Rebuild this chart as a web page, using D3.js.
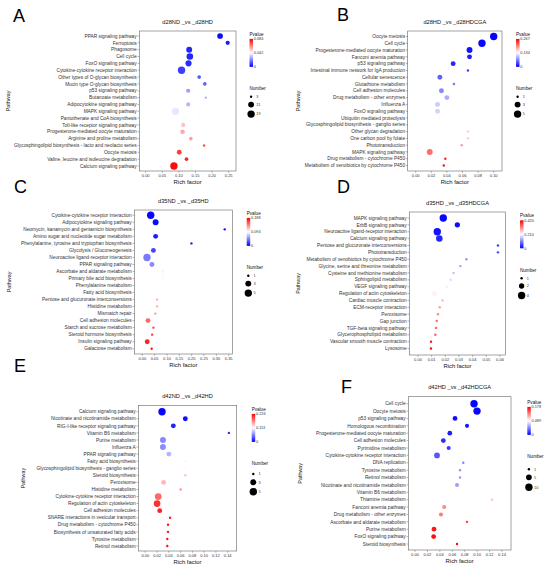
<!DOCTYPE html>
<html>
<head>
<meta charset="utf-8">
<script src="https://cdn.jsdelivr.net/npm/d3@7"></script>
<style>
  body { margin: 0; background: #fff; }
  svg { display: block; font-family: "Liberation Sans", Arial, sans-serif; }
</style>
</head>
<body>
<svg id="fig" width="550" height="569"></svg>
<script>
/* ------ DATA (rows top to bottom, as in the figure) ------ */

// A : d28ND _vs _d28HD
var aPathway = ["PPAR signaling pathway", "Ferroptosis", "Phagosome", "Cell cycle", "FoxO signaling pathway",
  "Cytokine-cytokine receptor interaction", "Other types of O-glycan biosynthesis", "Mucin type O-glycan biosynthesis",
  "p53 signaling pathway", "Butanoate metabolism", "Adipocytokine signaling pathway", "MAPK signaling pathway",
  "Pantothenate and CoA biosynthesis", "Toll-like receptor signaling pathway", "Progesterone-mediated oocyte maturation",
  "Arginine and proline metabolism", "Glycosphingolipid biosynthesis - lacto and neolacto series", "Oocyte meiosis",
  "Valine, leucine and isoleucine degradation", "Calcium signaling pathway"];
var aRich   = [0.224, 0.247, 0.131, 0.133, 0.129, 0.108, 0.161, 0.178, 0.128, 0.181, 0.128, 0.090, 0.160, 0.113, 0.111, 0.136, 0.176, 0.101, 0.123, 0.085];
var aNumber = [10, 5, 11, 14, 12, 19, 4, 4, 5, 3, 5, 18, 3, 5, 6, 4, 3, 7, 4, 19];
var aPvalue = [0.002, 0.004, 0.006, 0.006, 0.007, 0.010, 0.014, 0.016, 0.026, 0.028, 0.030, 0.038, 0.043, 0.052, 0.056, 0.058, 0.072, 0.074, 0.078, 0.082];
var aRichTicks = [0, 0.05, 0.10, 0.15, 0.20, 0.25];
var aPvalueTicks = [0, 0.042, 0.084];
var aNumberTicks = [3, 11, 19];

// B : d28HD _vs _d28HDCGA
var bPathway = ["Oocyte meiosis", "Cell cycle", "Progesterone-mediated oocyte maturation", "Fanconi anemia pathway",
  "p53 signaling pathway", "Intestinal immune network for IgA production", "Cellular senescence", "Glutathione metabolism",
  "Cell adhesion molecules", "Drug metabolism - other enzymes", "Influenza A", "FoxO signaling pathway",
  "Ubiquitin mediated proteolysis", "Glycosphingolipid biosynthesis - ganglio series", "Other glycan degradation",
  "One carbon pool by folate", "Phototransduction", "MAPK signaling pathway", "Drug metabolism - cytochrome P450",
  "Metabolism of xenobiotics by cytochrome P450"];
var bRich   = [0.100, 0.085, 0.069, 0.069, 0.048, 0.067, 0.031, 0.049, 0.033, 0.040, 0.028, 0.028, 0.030, 0.067, 0.067, 0.067, 0.059, 0.018, 0.038, 0.036];
var bNumber = [5, 5, 3, 2, 2, 1, 2, 1, 2, 2, 2, 2, 1, 1, 1, 1, 1, 3, 1, 1];
var bPvalue = [0.002, 0.004, 0.010, 0.015, 0.020, 0.030, 0.050, 0.060, 0.070, 0.090, 0.105, 0.110, 0.130, 0.135, 0.160, 0.165, 0.190, 0.210, 0.250, 0.260];
var bRichTicks = [0, 0.02, 0.04, 0.06, 0.08, 0.10];
var bPvalueTicks = [0, 0.134, 0.267];
var bNumberTicks = [1, 3, 5];

// C : d35ND _vs _d35HD
var cPathway = ["Cytokine-cytokine receptor interaction", "Adipocytokine signaling pathway",
  "Neomycin, kanamycin and gentamicin biosynthesis", "Amino sugar and nucleotide sugar metabolism",
  "Phenylalanine, tyrosine and tryptophan biosynthesis", "Glycolysis / Gluconeogenesis",
  "Neuroactive ligand-receptor interaction", "PPAR signaling pathway", "Ascorbate and aldarate metabolism",
  "Primary bile acid biosynthesis", "Phenylalanine metabolism", "Fatty acid biosynthesis",
  "Pentose and glucuronate interconversions", "Histidine metabolism", "Mismatch repair", "Cell adhesion molecules",
  "Starch and sucrose metabolism", "Steroid hormone biosynthesis", "Insulin signaling pathway", "Galactose metabolism"];
var cRich   = [0.034, 0.054, 0.334, 0.054, 0.199, 0.045, 0.019, 0.039, 0.083, 0.083, 0.083, 0.083, 0.060, 0.060, 0.053, 0.023, 0.045, 0.040, 0.020, 0.038];
var cNumber = [5, 3, 1, 2, 1, 2, 5, 2, 1, 1, 1, 1, 1, 1, 1, 2, 1, 1, 2, 1];
var cPvalue = [0.002, 0.004, 0.006, 0.010, 0.012, 0.025, 0.045, 0.050, 0.090, 0.092, 0.093, 0.095, 0.120, 0.122, 0.130, 0.150, 0.160, 0.165, 0.175, 0.180];
var cRichTicks = [0, 0.05, 0.10, 0.15, 0.20, 0.25, 0.30, 0.35];
var cPvalueTicks = [0, 0.094, 0.188];
var cNumberTicks = [1, 3, 5];

// D : d35HD _vs _d35HDCGA
var dPathway = ["MAPK signaling pathway", "ErbB signaling pathway", "Neuroactive ligand-receptor interaction",
  "Calcium signaling pathway", "Pentose and glucuronate interconversions", "Phototransduction",
  "Metabolism of xenobiotics by cytochrome P450", "Glycine, serine and threonine metabolism",
  "Cysteine and methionine metabolism", "Sphingolipid metabolism", "VEGF signaling pathway",
  "Regulation of actin cytoskeleton", "Cardiac muscle contraction", "ECM-receptor interaction", "Peroxisome",
  "Gap junction", "TGF-beta signaling pathway", "Glycerophospholipid metabolism", "Vascular smooth muscle contraction",
  "Lysosome"];
var dRich   = [0.0185, 0.0288, 0.0141, 0.0156, 0.0585, 0.0585, 0.0354, 0.0310, 0.0260, 0.0240, 0.0210, 0.0120, 0.0180, 0.0159, 0.0146, 0.0137, 0.0132, 0.0127, 0.0095, 0.0095];
var dNumber = [4, 2, 4, 3, 1, 1, 1, 1, 1, 1, 1, 2, 1, 1, 1, 1, 1, 1, 1, 1];
var dPvalue = [0.005, 0.010, 0.015, 0.030, 0.050, 0.055, 0.120, 0.130, 0.160, 0.180, 0.195, 0.220, 0.270, 0.290, 0.310, 0.330, 0.335, 0.340, 0.410, 0.415];
var dRichTicks = [0, 0.01, 0.02, 0.03, 0.04, 0.05, 0.06];
var dPvalueTicks = [0, 0.210, 0.420];
var dNumberTicks = [1, 2, 4];

// E : d42ND _vs _d42HD
var ePathway = ["Calcium signaling pathway", "Nicotinate and nicotinamide metabolism", "RIG-I-like receptor signaling pathway",
  "Vitamin B6 metabolism", "Purine metabolism", "Influenza A", "PPAR signaling pathway", "Fatty acid biosynthesis",
  "Glycosphingolipid biosynthesis - ganglio series", "Steroid biosynthesis", "Peroxisome", "Histidine metabolism",
  "Cytokine-cytokine receptor interaction", "Regulation of actin cytoskeleton", "Cell adhesion molecules",
  "SNARE interactions in vesicular transport", "Drug metabolism - cytochrome P450",
  "Biosynthesis of unsaturated fatty acids", "Tyrosine metabolism", "Retinol metabolism"];
var eRich   = [0.0284, 0.068, 0.0476, 0.142, 0.030, 0.030, 0.040, 0.068, 0.068, 0.068, 0.031, 0.060, 0.022, 0.020, 0.0245, 0.042, 0.0386, 0.0386, 0.0374, 0.0374];
var eNumber = [5, 2, 2, 1, 3, 3, 2, 1, 1, 1, 2, 1, 4, 4, 2, 1, 1, 1, 1, 1];
var ePvalue = [0.003, 0.006, 0.015, 0.020, 0.060, 0.062, 0.080, 0.110, 0.115, 0.140, 0.145, 0.160, 0.180, 0.205, 0.210, 0.215, 0.218, 0.219, 0.221, 0.222];
var eRichTicks = [0, 0.02, 0.04, 0.06, 0.08, 0.10, 0.12, 0.14];
var ePvalueTicks = [0, 0.113, 0.226];
var eNumberTicks = [1, 3, 5];

// F : d42HD _vs _d42HDCGA
var fPathway = ["Cell cycle", "Oocyte meiosis", "p53 signaling pathway", "Homologous recombination",
  "Progesterone-mediated oocyte maturation", "Cell adhesion molecules", "Pyrimidine metabolism",
  "Cytokine-cytokine receptor interaction", "DNA replication", "Tyrosine metabolism", "Retinol metabolism",
  "Nicotinate and nicotinamide metabolism", "Vitamin B6 metabolism", "Thiamine metabolism", "Fanconi anemia pathway",
  "Drug metabolism - other enzymes", "Ascorbate and aldarate metabolism", "Purine metabolism", "FoxO signaling pathway",
  "Steroid biosynthesis"];
var fRich   = [0.095, 0.0998, 0.0644, 0.0837, 0.056, 0.0456, 0.0542, 0.0354, 0.0777, 0.0724, 0.0724, 0.0676, 0.141, 0.124, 0.047, 0.0418, 0.0837, 0.0306, 0.030, 0.0676];
var fNumber = [10, 10, 3, 2, 3, 3, 2, 5, 1, 1, 1, 2, 1, 1, 2, 2, 1, 3, 3, 1];
var fPvalue = [0.001, 0.002, 0.005, 0.008, 0.010, 0.015, 0.020, 0.030, 0.045, 0.050, 0.051, 0.055, 0.090, 0.110, 0.130, 0.135, 0.160, 0.170, 0.172, 0.175];
var fRichTicks = [0, 0.02, 0.04, 0.06, 0.08, 0.10, 0.12, 0.14];
var fPvalueTicks = [0, 0.089, 0.178];
var fNumberTicks = [1, 5, 10];

/* ------ LAYOUT (one entry per panel) ------ */
var panels = [
  { letter: "A", title: "d28ND _vs _d28HD", names: aPathway, rich: aRich, number: aNumber, pvalue: aPvalue,
    richTicks: aRichTicks, pTicks: aPvalueTicks, nTicks: aNumberTicks,
    letterPos: [13, 22], box: [139.3, 31, 236, 171], rows: [36, 166], xpix: [145.7, 228.7], ylabX: 8.3, leg: [249.5, 34.3] },
  { letter: "B", title: "d28HD _vs _d28HDCGA", names: bPathway, rich: bRich, number: bNumber, pvalue: bPvalue,
    richTicks: bRichTicks, pTicks: bPvalueTicks, nTicks: bNumberTicks,
    letterPos: [337, 21], box: [407.7, 31, 502, 171], rows: [36.5, 165.5], xpix: [415.7, 493.7], ylabX: 298.3, leg: [516, 34.3] },
  { letter: "C", title: "d35ND _vs _d35HD", names: cPathway, rich: cRich, number: cNumber, pvalue: cPvalue,
    richTicks: cRichTicks, pTicks: cPvalueTicks, nTicks: cNumberTicks,
    letterPos: [14, 193], box: [134.3, 210, 232.3, 354], rows: [215.3, 348.7], xpix: [142.3, 228.7], ylabX: 8.5, leg: [246.7, 213.3] },
  { letter: "D", title: "d35HD _vs _d35HDCGA", names: dPathway, rich: dRich, number: dNumber, pvalue: dPvalue,
    richTicks: dRichTicks, pTicks: dPvalueTicks, nTicks: dNumberTicks,
    letterPos: [337, 193], box: [409.3, 212, 505.7, 355], rows: [218, 348.5], xpix: [418, 500], ylabX: 298, leg: [520, 215.7] },
  { letter: "E", title: "d42ND _vs _d42HD", names: ePathway, rich: eRich, number: eNumber, pvalue: ePvalue,
    richTicks: eRichTicks, pTicks: ePvalueTicks, nTicks: eNumberTicks,
    letterPos: [14, 372], box: [138.3, 405.3, 236.7, 551], rows: [411.7, 546], xpix: [145.3, 227.7], ylabX: 23.3, leg: [251.7, 409.3] },
  { letter: "F", title: "d42HD _vs _d42HDCGA", names: fPathway, rich: fRich, number: fNumber, pvalue: fPvalue,
    richTicks: fRichTicks, pTicks: fPvalueTicks, nTicks: fNumberTicks,
    letterPos: [341, 393], box: [408.3, 396.7, 511, 550], rows: [403.7, 544], xpix: [415, 502], ylabX: 300, leg: [527.3, 402.3] }
];

var svg = d3.select("#fig");
var defs = svg.append("defs");

panels.forEach(drawPanel);

function drawPanel(p) {
  var g = svg.append("g").attr("class", "panel-" + p.letter);
  var bx0 = p.box[0], by0 = p.box[1], bx1 = p.box[2], by1 = p.box[3];

  var x = d3.scaleLinear()
    .domain([p.richTicks[0], p.richTicks[p.richTicks.length - 1]])
    .range(p.xpix);
  var y = d3.scalePoint().domain(p.names).range(p.rows);

  var pMax = p.pTicks[p.pTicks.length - 1];
  var color = d3.scaleLinear()
    .domain([0, pMax / 2, pMax])
    .range(["#0000ff", "#ffffff", "#ff0000"]);

  // ggplot-like area scale: radius grows with sqrt of rescaled count
  var nMin = p.nTicks[0], nMax = p.nTicks[p.nTicks.length - 1];
  var sq = d3.scaleSqrt().domain([0, nMax - nMin]).range([0, 1]).clamp(true);
  function radius(n) { return 1.2 + 2.5 * sq(n - nMin); }

  // panel letter
  g.append("text")
    .attr("x", p.letterPos[0]).attr("y", p.letterPos[1])
    .attr("font-size", 18).attr("fill", "#000")
    .text(p.letter);

  // title
  g.append("text")
    .attr("x", (bx0 + bx1) / 2).attr("y", by0 - 7.3)
    .attr("text-anchor", "middle").attr("font-size", 5.7).attr("fill", "#111")
    .text(p.title);

  // points (drawn first, border on top)
  var rows = p.names.map(function(name, i) {
    return { name: name, rich: p.rich[i], number: p.number[i], pvalue: p.pvalue[i] };
  });

  g.append("g").selectAll("circle")
    .data(rows)
    .enter().append("circle")
      .attr("cx", function(d) { return x(d.rich); })
      .attr("cy", function(d) { return y(d.name); })
      .attr("r", function(d) { return radius(d.number); })
      .attr("fill", function(d) { return color(d.pvalue); });

  // panel border
  g.append("rect")
    .attr("x", bx0).attr("y", by0)
    .attr("width", bx1 - bx0).attr("height", by1 - by0)
    .attr("fill", "none").attr("stroke", "#666").attr("stroke-width", 0.6);

  // y axis: ticks + pathway labels
  var yAxis = g.append("g");
  yAxis.selectAll("line")
    .data(p.names)
    .enter().append("line")
      .attr("x1", bx0 - 1.8).attr("x2", bx0)
      .attr("y1", function(d) { return y(d); })
      .attr("y2", function(d) { return y(d); })
      .attr("stroke", "#444").attr("stroke-width", 0.4);
  yAxis.selectAll("text")
    .data(p.names)
    .enter().append("text")
      .attr("x", bx0 - 2.6)
      .attr("y", function(d) { return y(d); })
      .attr("dy", "0.35em")
      .attr("text-anchor", "end").attr("font-size", 4.8).attr("fill", "#333")
      .text(function(d) { return d; });

  // x axis: ticks + labels
  var xAxis = g.append("g");
  xAxis.selectAll("line")
    .data(p.richTicks)
    .enter().append("line")
      .attr("x1", function(d) { return x(d); })
      .attr("x2", function(d) { return x(d); })
      .attr("y1", by1).attr("y2", by1 + 1.8)
      .attr("stroke", "#444").attr("stroke-width", 0.4);
  xAxis.selectAll("text")
    .data(p.richTicks)
    .enter().append("text")
      .attr("x", function(d) { return x(d); })
      .attr("y", by1 + 5.8)
      .attr("text-anchor", "middle").attr("font-size", 4).attr("fill", "#333")
      .text(d3.format(".2f"));

  g.append("text")
    .attr("x", (bx0 + bx1) / 2).attr("y", by1 + 13.2)
    .attr("text-anchor", "middle").attr("font-size", 5.9).attr("fill", "#111")
    .text("Rich factor");

  g.append("text")
    .attr("transform", "translate(" + (p.ylabX + 2) + "," + ((by0 + by1) / 2) + ") rotate(-90)")
    .attr("text-anchor", "middle").attr("font-size", 5.4).attr("fill", "#111")
    .text("Pathway");

  /* ------ legends ------ */
  var lx = p.leg[0], ly = p.leg[1];
  var leg = g.append("g");

  leg.append("text")
    .attr("x", lx).attr("y", ly).attr("dy", "0.35em")
    .attr("font-size", 4.6).attr("fill", "#111")
    .text("Pvalue");

  var gradId = "grad-" + p.letter;
  var grad = defs.append("linearGradient")
    .attr("id", gradId).attr("x1", 0).attr("x2", 0).attr("y1", 1).attr("y2", 0);
  p.pTicks.forEach(function(t) {
    grad.append("stop")
      .attr("offset", t / pMax)
      .attr("stop-color", color(t));
  });

  var barTop = ly + 4.6, barBottom = ly + 32.6;
  var barScale = d3.scaleLinear().domain([0, pMax]).range([barBottom, barTop]);
  leg.append("rect")
    .attr("x", lx).attr("y", barTop)
    .attr("width", 3.5).attr("height", barBottom - barTop)
    .attr("fill", "url(#" + gradId + ")");
  leg.selectAll(".cbtick")
    .data(p.pTicks)
    .enter().append("line")
      .attr("class", "cbtick")
      .attr("x1", lx).attr("x2", lx + 0.8)
      .attr("y1", function(d) { return barScale(d); })
      .attr("y2", function(d) { return barScale(d); })
      .attr("stroke", "#fff").attr("stroke-width", 0.3);
  leg.selectAll(".cblab")
    .data(p.pTicks)
    .enter().append("text")
      .attr("class", "cblab")
      .attr("x", lx + 4.3)
      .attr("y", function(d) { return barScale(d); })
      .attr("dy", "0.35em")
      .attr("font-size", 3.8).attr("fill", "#333")
      .text(function(d) { return d === 0 ? "0" : d3.format(".3f")(d); });

  leg.append("text")
    .attr("x", lx).attr("y", ly + 54.5).attr("dy", "0.35em")
    .attr("font-size", 4.6).attr("fill", "#111")
    .text("Number");

  var dotY = [ly + 62.5, ly + 70.3, ly + 79.8];
  if (p.letter === "F") dotY = [ly + 67, ly + 75, ly + 85];
  if (p.letter === "E") dotY = [ly + 64.7, ly + 73, ly + 82.4];
  leg.selectAll(".ndot")
    .data(p.nTicks)
    .enter().append("circle")
      .attr("class", "ndot")
      .attr("cx", lx + 1.6)
      .attr("cy", function(d, i) { return dotY[i]; })
      .attr("r", function(d) { return radius(d); })
      .attr("fill", "#000");
  leg.selectAll(".nlab")
    .data(p.nTicks)
    .enter().append("text")
      .attr("class", "nlab")
      .attr("x", lx + 6.8)
      .attr("y", function(d, i) { return dotY[i]; })
      .attr("dy", "0.35em")
      .attr("font-size", 3.8).attr("fill", "#333")
      .text(function(d) { return d; });
}
</script>
</body>
</html>
